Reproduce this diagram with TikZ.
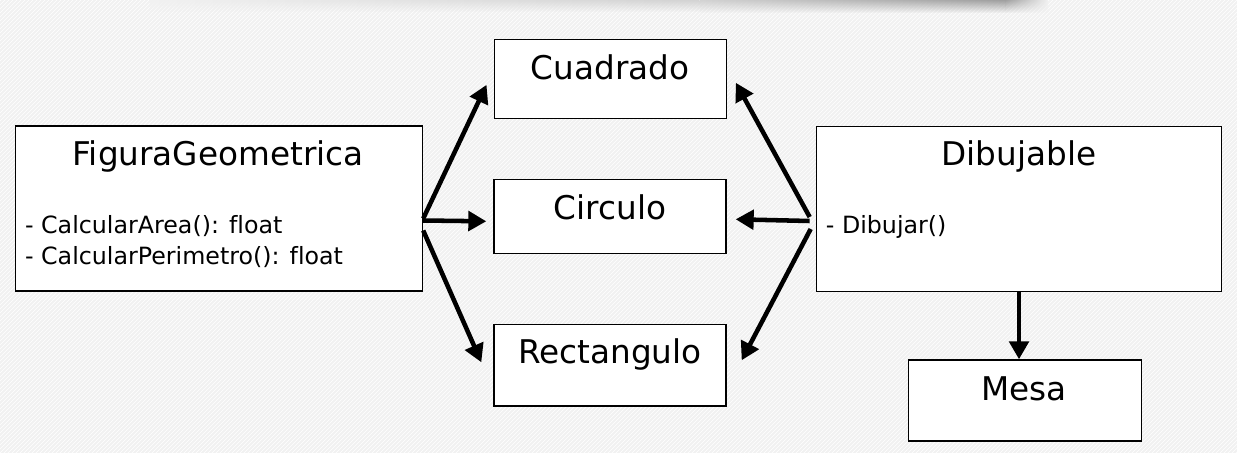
\documentclass[tikz,border=0pt]{standalone}
\usepackage{fontspec}
\setmainfont{DejaVu Sans}[Ligatures=NoCommon]
\usetikzlibrary{arrows.meta,positioning,calc,patterns,fadings}
\definecolor{bgGray}{RGB}{241,241,241}

\tikzset{
  classbox/.style={draw=black, line width=1pt, fill=white, inner sep=0pt},
  classname/.style={anchor=base, inner sep=0pt, font=\fontsize{24.5}{29}\selectfont},
  member/.style={anchor=base west, inner sep=0pt, font=\fontsize{17.8}{21}\selectfont},
  link/.style={line width=3.4pt, -{Triangle[length=13.5pt,width=14.5pt]}},
}

\begin{document}
\begin{tikzpicture}[x=0.75pt,y=-0.75pt]
\useasboundingbox (0,0) rectangle (1237,453);

% background and top shadow
\fill[bgGray] (0,0) rectangle (1237,453);
\fill[pattern=north east lines, pattern color=white] (0,0) rectangle (1237,453);
\shade[left color=bgGray, right color=gray!35, path fading=south] (150,0) rectangle (700,12);
\shade[left color=gray!35, right color=gray!75, path fading=south] (700,0) rectangle (1005,13);
\shade[left color=gray!75, right color=bgGray, path fading=south] (1005,0) rectangle (1048,13);

% classes
\node[classbox, minimum width=305.3pt, minimum height=123.8pt] (fig) at (219,208.5) {};
\node[classbox, minimum width=174pt, minimum height=59.3pt] (cua) at (610.2,78.8) {};
\node[classbox, minimum width=174pt, minimum height=55.5pt] (cir) at (610,216.3) {};
\node[classbox, minimum width=174pt, minimum height=61pt] (rec) at (610,365.3) {};
\node[classbox, minimum width=304pt, minimum height=123.5pt] (dib) at (1019,209) {};
\node[classbox, minimum width=175pt, minimum height=60.8pt] (mesa) at (1025,400.5) {};

\node[classname] (figT) at ($(fig.north)+(-1,40)$) {FiguraGeometrica};
\node[classname] (cuaT) at ($(cua.north)+(0,41)$) {Cuadrado};
\node[classname] (cirT) at ($(cir.north)+(0,41)$) {Circulo};
\node[classname] (recT) at ($(rec.north)+(0,40)$) {Rectangulo};
\node[classname] (dibT) at ($(dib.north)+(0,39)$) {Dibujable};
\node[classname] (mesaT) at ($(mesa.north)+(-1,41)$) {Mesa};

\node[member] (figA) at ($(fig.north west)+(10,108)$) {- CalcularArea(): float};
\node[member] (figP) at ($(fig.north west)+(10,139.5)$) {- CalcularPerimetro(): float};
\node[member] (dibD) at ($(dib.north west)+(10,107)$) {- Dibujar()};

% arrows
\draw[link] ($(fig.east)+(0,10)$) -- ($(cua.west)+(-7,6)$);
\draw[link] ($(fig.east)+(0,12)$) -- ($(cir.west)+(-7,5)$);
\draw[link] ($(fig.east)+(0,22)$) -- ($(rec.west)+(-12,-3)$);
\draw[link] ($(dib.west)+(-6,8)$) -- ($(cua.east)+(9,4)$);
\draw[link] ($(dib.west)+(-6,12)$) -- ($(cir.east)+(9,3)$);
\draw[link] ($(dib.west)+(-5,20)$) -- ($(rec.east)+(15,-5)$);
\draw[link] (dib.south) -- (dib.south |- mesa.north);
\end{tikzpicture}
\end{document}
